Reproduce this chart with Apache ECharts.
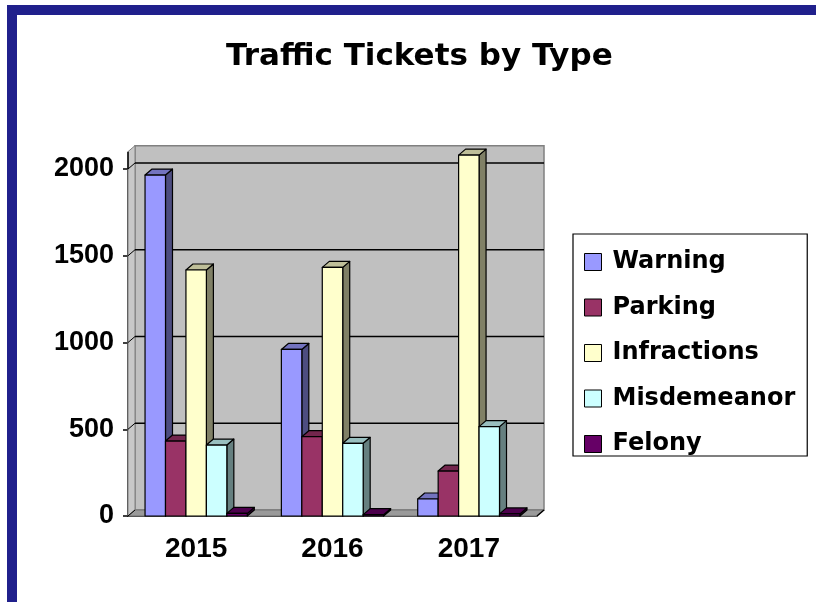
<!DOCTYPE html>
<html>
<head>
<meta charset="utf-8">
<script src="https://cdn.jsdelivr.net/npm/echarts@6/dist/echarts.min.js"></script>
<style>
  html, body { margin: 0; padding: 0; background: #fff; }
  #chart { width: 816px; height: 602px; }
</style>
</head>
<body>
<div id="chart"></div>
<script>
// data
var categories = ['2015', '2016', '2017'];
var seriesNames = ['Warning', 'Parking', 'Infractions', 'Misdemeanor', 'Felony'];
var warning = [1965, 960, 98];
var parking = [432, 457, 259];
var infractions = [1418, 1433, 2080];
var misdemeanor = [409, 419, 515];
var felony = [15, 8, 12];
var gridValues = [500, 1000, 1500, 2000];
var wallTop = 2100;

var seriesData = [warning, parking, infractions, misdemeanor, felony];
// front, top, side
var colors = [
	['#9999FF', '#7373BF', '#4D4D80'],
	['#993366', '#73264D', '#4D1A33'],
	['#FFFFCC', '#BFBF99', '#808066'],
	['#CCFFFF', '#99BFBF', '#668080'],
	['#660066', '#4D004D', '#330033']
];

var DX = 7, DY = -6;   // depth of the fake 3d
var BAR = 0.15;        // bar width as a share of the category band

var myChart = echarts.init(document.getElementById('chart'));

function renderWall(params, api) {
	var cs = params.coordSys;
	var L = cs.x, R = cs.x + cs.width;
	var y0 = api.coord([0, 0])[1];
	var yT = api.coord([0, wallTop])[1];
	var y2000 = api.coord([0, 2000])[1];
	var kids = [
		{ type: 'rect', shape: { x: L + DX, y: yT + DY, width: R - L, height: y0 - yT },
		  style: { fill: '#C0C0C0', stroke: '#808080', lineWidth: 1.5 } },
		{ type: 'polygon', shape: { points: [[L, yT], [L + DX, yT + DY], [L + DX, y0 + DY], [L, y0]] },
		  style: { fill: '#C8C8C8', stroke: '#808080', lineWidth: 1 } },
		{ type: 'polygon', shape: { points: [[L, y0], [L + DX, y0 + DY], [R + DX, y0 + DY], [R, y0]] },
		  style: { fill: '#9A9A9A', stroke: '#707070', lineWidth: 1 } },
		{ type: 'line', shape: { x1: L, y1: y2000, x2: L, y2: yT },
		  style: { stroke: '#000', lineWidth: 1.5 } },
		{ type: 'line', shape: { x1: R, y1: y0, x2: R + DX, y2: y0 + DY },
		  style: { stroke: '#000', lineWidth: 1.5 } }
	];
	gridValues.forEach(function (v) {
		var y = api.coord([0, v])[1];
		kids.push({ type: 'line', shape: { x1: L + DX, y1: y + DY, x2: R + DX, y2: y + DY },
			style: { stroke: '#000', lineWidth: 1.5 } });
		kids.push({ type: 'line', shape: { x1: L, y1: y, x2: L + DX, y2: y + DY },
			style: { stroke: '#000', lineWidth: 1 } });
	});
	kids.push({ type: 'line', shape: { x1: L, y1: y0, x2: L + DX, y2: y0 + DY },
		style: { stroke: '#000', lineWidth: 1 } });
	return { type: 'group', children: kids };
}

function makeRender(k) {
	return function (params, api) {
		var band = api.size([1, 0])[0];
		var w = band * BAR;
		var c = api.coord([api.value(0), 0]);
		var t = api.coord([api.value(0), api.value(1)]);
		var x0 = c[0] - w * 2.5 + k * w;
		var yb = c[1], yt = t[1];
		var col = colors[k];
		var line = { stroke: '#000', lineWidth: 1.2, lineJoin: 'round' };
		return {
			type: 'group',
			children: [
				{ type: 'polygon', shape: { points: [[x0 + w, yt], [x0 + w + DX, yt + DY], [x0 + w + DX, yb + DY], [x0 + w, yb]] },
				  style: Object.assign({ fill: col[2] }, line) },
				{ type: 'polygon', shape: { points: [[x0, yt], [x0 + DX, yt + DY], [x0 + w + DX, yt + DY], [x0 + w, yt]] },
				  style: Object.assign({ fill: col[1] }, line) },
				{ type: 'rect', shape: { x: x0, y: yt, width: w, height: yb - yt },
				  style: Object.assign({ fill: col[0] }, line) }
			]
		};
	};
}

var series = [{
	type: 'custom',
	name: 'wall',
	silent: true,
	renderItem: renderWall,
	data: [[0, 0]],
	z: 1
}];
seriesNames.forEach(function (name, k) {
	series.push({
		type: 'custom',
		name: name,
		renderItem: makeRender(k),
		itemStyle: { color: colors[k][0], borderColor: '#000', borderWidth: 1 },
		data: seriesData[k].map(function (v, i) { return [i, v]; }),
		z: 2
	});
});

var option = {
	animation: false,
	title: {
		text: 'Traffic Tickets by Type',
		left: 221,
		top: 36,
		textStyle: { fontFamily: 'DejaVu Sans', fontWeight: 'bold', fontSize: 31, color: '#000' }
	},
	legend: {
		orient: 'vertical',
		left: 573,
		top: 234,
		data: seriesNames,
		icon: 'rect',
		itemWidth: 17,
		itemHeight: 17,
		itemGap: 21.5,
		padding: [16, 12, 0, 11],
		borderColor: '#000',
		borderWidth: 1.2,
		backgroundColor: '#fff',
		itemStyle: { borderColor: '#000', borderWidth: 1 },
		textStyle: { fontFamily: 'DejaVu Sans', fontWeight: 'bold', fontSize: 24, lineHeight: 24,
			color: '#000', padding: [0, 0, 0, 6] }
	},
	grid: { left: 128, right: 279, top: 169, bottom: 86 },
	xAxis: {
		type: 'category',
		data: categories,
		axisLine: { lineStyle: { color: '#000', width: 1.5 } },
		axisTick: { length: 6, lineStyle: { color: '#000', width: 1.5 } },
		axisLabel: { margin: 19, fontFamily: 'Liberation Sans', fontWeight: 'bold', fontSize: 28, color: '#000' },
		splitLine: { show: false }
	},
	yAxis: {
		type: 'value',
		min: 0,
		max: 2000,
		interval: 500,
		axisLine: { show: true, lineStyle: { color: '#000', width: 1.5 } },
		axisTick: { show: true, length: 5, lineStyle: { color: '#000', width: 1.5 } },
		axisLabel: { margin: 14, fontFamily: 'Liberation Sans', fontWeight: 'bold', fontSize: 27, color: '#000',
			formatter: function (v) { return String(v); } },
		splitLine: { show: false }
	},
	graphic: [
		{ type: 'rect', shape: { x: 7, y: 5, width: 809, height: 10 }, style: { fill: '#20208C' } },
		{ type: 'rect', shape: { x: 7, y: 5, width: 10, height: 597 }, style: { fill: '#20208C' } }
	],
	series: series
};

myChart.setOption(option);
</script>
</body>
</html>
